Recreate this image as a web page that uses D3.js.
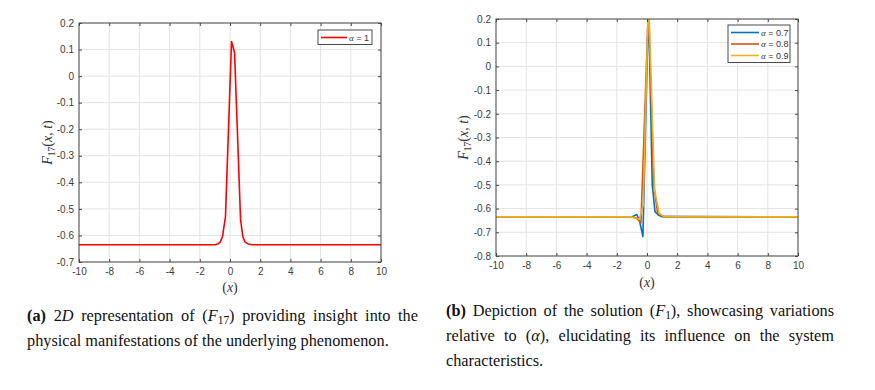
<!DOCTYPE html>
<html lang="en">
<head>
<meta charset="UTF-8">
<title>F17 solution plots</title>
<script src="https://d3js.org/d3.v7.min.js"></script>
<style>
  body { margin: 0; background: #fff; }
  #page { position: relative; width: 875px; height: 390px; overflow: hidden; }
  .cap {
    position: absolute;
    font-family: "Liberation Serif", "Times New Roman", serif;
    font-size: 16.3px;
    line-height: 20px;
    height: 20px;
    color: #111;
    white-space: nowrap;
    text-align: justify;
    text-align-last: justify;
  }
  .cap.last { text-align-last: left; }
  .cap b { font-weight: bold; }
  .cap sub { font-size: 0.7em; vertical-align: -0.25em; line-height: 0; }
</style>
</head>
<body>
<div id="page">
  <svg id="chart" width="875" height="390"></svg>
</div>
<script>
// ---- data ----
const xTicks = [-10, -8, -6, -4, -2, 0, 2, 4, 6, 8, 10];
const yTicksA = [-0.7, -0.6, -0.5, -0.4, -0.3, -0.2, -0.1, 0, 0.1, 0.2];
const yTicksB = [-0.8, -0.7, -0.6, -0.5, -0.4, -0.3, -0.2, -0.1, 0, 0.1, 0.2];

// panel (a): alpha = 1
const xA1 = [-10, -1.0, -0.8, -0.65, -0.5, -0.3, 0.1, 0.3, 0.7, 0.85, 1.0, 1.2, 1.5, 10];
const yA1 = [-0.635, -0.635, -0.632, -0.625, -0.605, -0.53, 0.13, 0.09, -0.54, -0.605, -0.625, -0.632, -0.635, -0.635];

// panel (b): alpha = 0.7, 0.8, 0.9
const xB07 = [-10, -1.0, -0.68, -0.5, -0.27, 0.1, 0.35, 0.53, 0.75, 1.0, 10];
const yB07 = [-0.635, -0.635, -0.625, -0.65, -0.718, 0.26, -0.5, -0.613, -0.627, -0.634, -0.635];
const xB08 = [-10, -1.0, -0.7, -0.4, 0.1, 0.45, 0.7, 0.95, 1.2, 10];
const yB08 = [-0.635, -0.635, -0.64, -0.66, 0.26, -0.5, -0.618, -0.63, -0.634, -0.635];
const xB09 = [-10, -1.1, -0.5, -0.25, 0.1, 0.5, 0.8, 1.05, 1.3, 10];
const yB09 = [-0.635, -0.635, -0.645, -0.585, 0.3, -0.52, -0.62, -0.631, -0.634, -0.635];

const labelsB = ["0.7", "0.8", "0.9"];

// caption lines (html), one entry per printed line
const captionA = [
    '<b>(a)</b> 2<i>D</i> representation of (<i>F</i><sub>17</sub>) providing insight into the',
    'physical manifestations of the underlying phenomenon.'
];
const captionB = [
    '<b>(b)</b> Depiction of the solution (<i>F</i><sub>1</sub>), showcasing variations',
    'relative to (<i>α</i>), elucidating its influence on the system',
    'characteristics.'
];

const svg = d3.select('#chart');
svg.append('rect').attr('width', 875).attr('height', 390).attr('fill', '#fff');

const axisColor = '#4a4a4a';
const fmt = v => String(+v.toFixed(1));

function drawPanel(opt) {
    const g = svg.append('g');
    const x = d3.scaleLinear().domain([-10, 10]).range([opt.left, opt.right]);
    const y = d3.scaleLinear().domain(opt.yDomain).range([opt.bottom, opt.top]);
    const w = opt.right - opt.left, h = opt.bottom - opt.top;

    // grid
    g.selectAll('.gx').data(xTicks).enter().append('line')
        .attr('x1', d => x(d)).attr('x2', d => x(d))
        .attr('y1', opt.top).attr('y2', opt.bottom)
        .attr('stroke', '#e3e3e3').attr('stroke-width', 1);
    g.selectAll('.gy').data(opt.yTicks).enter().append('line')
        .attr('x1', opt.left).attr('x2', opt.right)
        .attr('y1', d => y(d)).attr('y2', d => y(d))
        .attr('stroke', '#e3e3e3').attr('stroke-width', 1);

    // lines (clipped to the axes box)
    const clipId = 'clip' + opt.id;
    svg.append('clipPath').attr('id', clipId).append('rect')
        .attr('x', opt.left).attr('y', opt.top).attr('width', w).attr('height', h);
    const line = d3.line().x(d => x(d[0])).y(d => y(d[1]));
    opt.series.forEach(s => {
        g.append('path')
            .datum(d3.zip(s.xs, s.ys))
            .attr('d', line)
            .attr('fill', 'none')
            .attr('stroke', s.color)
            .attr('stroke-width', 1.6)
            .attr('stroke-linejoin', 'round')
            .attr('clip-path', `url(#${clipId})`);
    });

    // box and inward ticks
    g.append('rect').attr('x', opt.left).attr('y', opt.top)
        .attr('width', w).attr('height', h)
        .attr('fill', 'none').attr('stroke', axisColor).attr('stroke-width', 1);

    const xAxis = d3.axisBottom(x).tickValues(xTicks).tickSizeInner(-3).tickSizeOuter(0)
        .tickPadding(6).tickFormat(fmt);
    const yAxis = d3.axisLeft(y).tickValues(opt.yTicks).tickSizeInner(-3).tickSizeOuter(0)
        .tickPadding(5).tickFormat(fmt);
    const xTop = d3.axisTop(x).tickValues(xTicks).tickSizeInner(-3).tickSizeOuter(0).tickFormat('');
    const yRight = d3.axisRight(y).tickValues(opt.yTicks).tickSizeInner(-3).tickSizeOuter(0).tickFormat('');

    [[xAxis, `translate(0,${opt.bottom})`], [yAxis, `translate(${opt.left},0)`],
     [xTop, `translate(0,${opt.top})`], [yRight, `translate(${opt.right},0)`]].forEach(([ax, tr]) => {
        const a = g.append('g').attr('transform', tr).call(ax);
        a.select('.domain').remove();
        a.selectAll('line').attr('stroke', axisColor);
        a.selectAll('text')
            .attr('fill', '#3c3c3c')
            .attr('font-family', '"Liberation Sans", Arial, sans-serif')
            .attr('font-size', 10);
    });

    // axis labels
    const xl = g.append('text')
        .attr('x', (opt.left + opt.right) / 2).attr('y', opt.xLabelY)
        .attr('text-anchor', 'middle')
        .attr('font-family', '"Liberation Serif", "Times New Roman", serif')
        .attr('font-size', 14).attr('fill', '#333');
    xl.append('tspan').text('(');
    xl.append('tspan').attr('font-style', 'italic').text('x');
    xl.append('tspan').text(')');

    const yl = g.append('text')
        .attr('transform', `translate(${opt.yLabelX},${(opt.top + opt.bottom) / 2}) rotate(-90)`)
        .attr('text-anchor', 'middle')
        .attr('font-family', '"Liberation Serif", "Times New Roman", serif')
        .attr('font-size', 14).attr('fill', '#333');
    yl.append('tspan').attr('font-style', 'italic').text('F');
    yl.append('tspan').attr('font-size', 9.5).attr('dy', 3).text('17');
    yl.append('tspan').attr('dy', -3).text('(');
    yl.append('tspan').attr('font-style', 'italic').text('x');
    yl.append('tspan').text(', ');
    yl.append('tspan').attr('font-style', 'italic').text('t');
    yl.append('tspan').text(')');

    // legend
    const L = opt.legend;
    const lg = g.append('g');
    lg.append('rect').attr('x', L.x).attr('y', L.y)
        .attr('width', L.w).attr('height', 3 + opt.series.length * 11.5)
        .attr('fill', '#fff').attr('stroke', axisColor).attr('stroke-width', 1);
    opt.series.forEach((s, i) => {
        const cy = L.y + 7.5 + i * 11.5;
        lg.append('line')
            .attr('x1', L.x + 3).attr('x2', L.x + L.lineW)
            .attr('y1', cy).attr('y2', cy)
            .attr('stroke', s.color).attr('stroke-width', 1.6);
        const t = lg.append('text')
            .attr('x', L.x + L.lineW + 2).attr('y', cy + 3)
            .attr('font-family', '"Liberation Sans", Arial, sans-serif')
            .attr('font-size', 9).attr('fill', '#333');
        t.append('tspan').attr('font-family', '"Liberation Serif", serif').attr('font-style', 'italic').text('α');
        t.append('tspan').text(' = ' + s.label);
    });
}

drawPanel({
    id: 'A', left: 79, right: 381, top: 23, bottom: 262,
    yDomain: [-0.7, 0.2], yTicks: yTicksA,
    xLabelY: 292, yLabelX: 52,
    legend: { x: 318, y: 30, w: 54, lineW: 29 },
    series: [{ xs: xA1, ys: yA1, color: '#ff0000', label: '1' }]
});

drawPanel({
    id: 'B', left: 496, right: 798, top: 19, bottom: 256,
    yDomain: [-0.8, 0.2], yTicks: yTicksB,
    xLabelY: 287, yLabelX: 468,
    legend: { x: 728, y: 25, w: 62, lineW: 31 },
    series: [
        { xs: xB07, ys: yB07, color: '#0072BD', label: labelsB[0] },
        { xs: xB08, ys: yB08, color: '#D95319', label: labelsB[1] },
        { xs: xB09, ys: yB09, color: '#EDB120', label: labelsB[2] }
    ]
});

// captions: one absolutely placed block per line, baselines
function drawCaption(lines, left, width, firstTop, step) {
    d3.select('#page').selectAll(null).data(lines).enter().append('div')
        .attr('class', (d, i) => i === lines.length - 1 ? 'cap last' : 'cap')
        .style('left', left + 'px')
        .style('width', width + 'px')
        .style('top', (d, i) => (firstTop + i * step) + 'px')
        .html(d => d);
}
drawCaption(captionA, 27, 391, 306, 24.5);
drawCaption(captionB, 446, 388, 301, 24.8);
</script>
</body>
</html>
